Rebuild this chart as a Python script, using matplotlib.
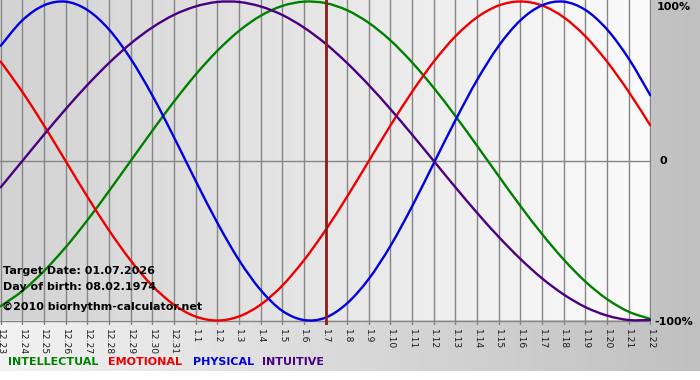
import numpy as np
import matplotlib
matplotlib.use("Agg")
import matplotlib.pyplot as plt
from matplotlib.colors import LinearSegmentedColormap
from matplotlib.path import Path
from matplotlib.patches import PathPatch

W, H = 700, 380

dates = ["12.23", "12.24", "12.25", "12.26", "12.27", "12.28", "12.29", "12.30", "12.31",
         "1.1", "1.2", "1.3", "1.4", "1.5", "1.6", "1.7", "1.8", "1.9", "1.10", "1.11",
         "1.12", "1.13", "1.14", "1.15", "1.16", "1.17", "1.18", "1.19", "1.20", "1.21", "1.22"]

intellectual = [-0.910, -0.815, -0.690, -0.541, -0.372, -0.189, 0.000, 0.189, 0.372, 0.541,
                0.690, 0.815, 0.910, 0.972, 0.999, 0.990, 0.945, 0.866, 0.756, 0.618,
                0.458, 0.282, 0.095, -0.095, -0.282, -0.458, -0.618, -0.756, -0.866,
                -0.945, -0.990]
emotional = [0.623, 0.434, 0.223, 0.000, -0.223, -0.434, -0.623, -0.782, -0.901, -0.975,
             -1.000, -0.975, -0.901, -0.782, -0.623, -0.434, -0.223, 0.000, 0.223, 0.434,
             0.623, 0.782, 0.901, 0.975, 1.000, 0.975, 0.901, 0.782, 0.623, 0.434, 0.223]
physical = [0.722, 0.882, 0.976, 0.999, 0.947, 0.825, 0.642, 0.412, 0.150, -0.123, -0.386,
            -0.620, -0.808, -0.939, -0.997, -0.982, -0.892, -0.739, -0.532, -0.284,
            -0.014, 0.256, 0.508, 0.722, 0.882, 0.976, 0.999, 0.947, 0.825, 0.642, 0.412]
intuitive = [-0.165, 0.000, 0.165, 0.325, 0.476, 0.614, 0.736, 0.837, 0.916, 0.969, 0.997,
             0.997, 0.969, 0.916, 0.837, 0.736, 0.614, 0.476, 0.325, 0.165, 0.000, -0.165,
             -0.325, -0.476, -0.614, -0.736, -0.837, -0.916, -0.969, -0.997, -0.997]

target_index = 15  # 1.7

series = [
    ("INTELLECTUAL", intellectual, "#008000"),
    ("EMOTIONAL", emotional, "#ee0000"),
    ("PHYSICAL", physical, "#0000e0"),
    ("INTUITIVE", intuitive, "#4a0080"),
]

fig = plt.figure(figsize=(W / 100, H / 100), dpi=100)
fig.patch.set_facecolor("white")


def fx(x):
    return x / W


def fy(y):
    return 1 - y / H


def smooth_path(xv, yv):
    """Catmull-Rom curve through the data points, as cubic Bezier segments."""
    pts = np.column_stack([xv, yv]).astype(float)
    verts = [pts[0]]
    codes = [Path.MOVETO]
    m = len(pts)
    for i in range(m - 1):
        p0 = pts[i - 1] if i > 0 else pts[i]
        p1 = pts[i]
        p2 = pts[i + 1]
        p3 = pts[i + 2] if i + 2 < m else pts[i + 1]
        c1 = p1 + (p2 - p0) / 6.0
        c2 = p2 - (p3 - p1) / 6.0
        verts += [c1, c2, p2]
        codes += [Path.CURVE4] * 3
    return Path(verts, codes)


# outer background gradient
bg = fig.add_axes([0, 0, 1, 1])
bg.set_xlim(0, W)
bg.set_ylim(H, 0)
bg.axis("off")
outer_cmap = LinearSegmentedColormap.from_list("outer", ["#f2f2f2", "#c0c0c0"])
bg.imshow(np.linspace(0, 1, 256)[None, :], cmap=outer_cmap, aspect="auto",
          extent=(0, W, 371, 0), interpolation="bilinear")

# main plot axes
top_px, bot_px = 0, 325
ax = fig.add_axes([0, fy(bot_px), fx(651), (bot_px - top_px) / H])
n = len(dates)
xs = np.arange(n)
x0, x1 = -0.03, n - 1 + 0.03
y_top = 1 + 1.5 / 159.5
y_bot = -1 - 4.5 / 159.5
ax.set_xlim(x0, x1)
ax.set_ylim(y_bot, y_top)
inner_cmap = LinearSegmentedColormap.from_list("inner", ["#d3d3d3", "#fbfbfb"])
ax.imshow(np.linspace(0, 1, 256)[None, :], cmap=inner_cmap, aspect="auto",
          extent=(x0, x1, -1, y_top), interpolation="bilinear", zorder=0)
ax.patch.set_alpha(0)

for sp in ax.spines.values():
    sp.set_visible(False)

for i in xs:
    ax.axvline(i, color="#858585", lw=1.0, zorder=1)
ax.axhline(0, color="#858585", lw=1.0, zorder=1)
ax.axhline(-1, color="#858585", lw=1.0, zorder=1)

for name, vals, col in series:
    ax.add_patch(PathPatch(smooth_path(xs, vals), facecolor="none", edgecolor=col,
                           lw=1.7, zorder=3, capstyle="round"))

ax.axvline(target_index, color="#8b1c1c", lw=2.0, zorder=4)

ax.set_xticks(xs)
ax.set_xticklabels(dates, rotation=270, fontsize=6.6, color="#1a1a1a")
ax.tick_params(axis="x", length=0, pad=3)
ax.set_yticks([])

# right labels
fs = 8
fig.text(fx(657), fy(7), "100%", fontsize=fs, fontweight="bold", va="center", ha="left")
fig.text(fx(659), fy(161), "0", fontsize=fs, fontweight="bold", va="center", ha="left")
fig.text(fx(654), fy(322), "-100%", fontsize=fs, fontweight="bold", va="center", ha="left")

# info text
fig.text(fx(3), fy(271), "Target Date: 01.07.2026", fontsize=fs, fontweight="bold",
         va="center", ha="left", zorder=10)
fig.text(fx(3), fy(287), "Day of birth: 08.02.1974", fontsize=fs, fontweight="bold",
         va="center", ha="left", zorder=10)
fig.text(fx(2), fy(307), "\u00a92010 biorhythm-calculator.net", fontsize=fs, fontweight="bold",
         va="center", ha="left", zorder=10)

# legend texts
leg_x = [8, 108, 193, 262]
for (name, vals, col), lx in zip(series, leg_x):
    fig.text(fx(lx), fy(362), name, fontsize=fs, fontweight="bold", color=col,
             va="center", ha="left")

fig.savefig("out.png", dpi=100)
